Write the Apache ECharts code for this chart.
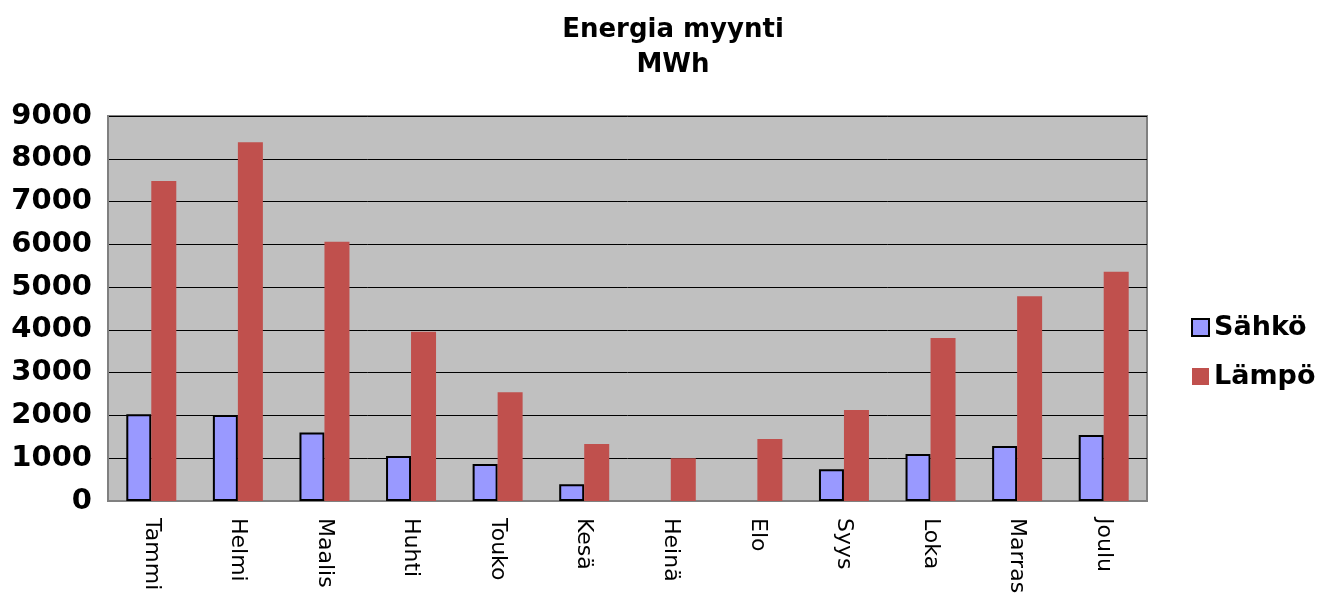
<!DOCTYPE html>
<html><head><meta charset="utf-8">
<script src="https://cdn.jsdelivr.net/npm/echarts@6/dist/echarts.min.js"></script>
<style>html,body{margin:0;padding:0;background:#fff}#c{width:1322px;height:598px}</style>
</head><body><div id="c"></div>
<script>
const categories = ['Tammi','Helmi','Maalis','Huhti','Touko','Kesä','Heinä','Elo','Syys','Loka','Marras','Joulu'];
const sahko = [2030, 2010, 1600, 1050, 865, 390, null, null, 740, 1100, 1285, 1543];
const lampo = [7480, 8385, 6062, 3958, 2540, 1330, 1000, 1450, 2127, 3810, 4785, 5360];
const yTicks = [0, 1000, 2000, 3000, 4000, 5000, 6000, 7000, 8000, 9000];

const FONT = 'DejaVu Sans, Liberation Sans, Arial, sans-serif';
const chart = echarts.init(document.getElementById('c'));
chart.setOption({
  animation: false,
  backgroundColor: '#fff',
  textStyle: { fontFamily: FONT },
  title: {
    text: 'Energia myynti\nMWh',
    left: 668, top: 8, textAlign: 'center',
    textStyle: { fontSize: 26, fontWeight: 'bold', color: '#000', lineHeight: 35, fontFamily: FONT }
  },
  legend: {
    orient: 'vertical', left: 1186, top: 309, itemGap: 22,
    itemWidth: 17, itemHeight: 17, icon: 'rect',
    textStyle: { fontSize: 27, fontWeight: 'bold', color: '#000', fontFamily: FONT },
    data: ['Sähkö', 'Lämpö']
  },
  grid: { left: 108, right: 175, top: 116, bottom: 97, outerBoundsMode: 'none', containLabel: false,
    show: true, backgroundColor: '#C0C0C0', borderColor: '#808080', borderWidth: 2 },
  xAxis: {
    type: 'category', data: categories,
    axisLine: { show: true, lineStyle: { color: '#808080', width: 2 } },
    axisTick: { show: false },
    axisLabel: { rotate: -90, margin: 17, fontSize: 22, color: '#000', fontFamily: FONT }
  },
  yAxis: {
    type: 'value', min: yTicks[0], max: yTicks[yTicks.length-1], interval: 1000,
    axisLine: { show: true, lineStyle: { color: '#808080', width: 2 } },
    axisTick: { show: false },
    axisLabel: { margin: 16, fontSize: 29, fontWeight: 'bold', color: '#000', fontFamily: FONT,
      formatter: function (v) { return String(v); } },
    splitLine: { show: true, lineStyle: { color: '#000', width: 1 } }
  },
  series: [
    { name: 'Sähkö', type: 'bar', data: sahko, barWidth: 25, barGap: '0%',
      itemStyle: { color: '#9999FF', borderColor: '#000', borderWidth: 2 } },
    { name: 'Lämpö', type: 'bar', data: lampo, barWidth: 25, barGap: '0%',
      itemStyle: { color: '#C0504D' } }
  ]
});
</script></body></html>
